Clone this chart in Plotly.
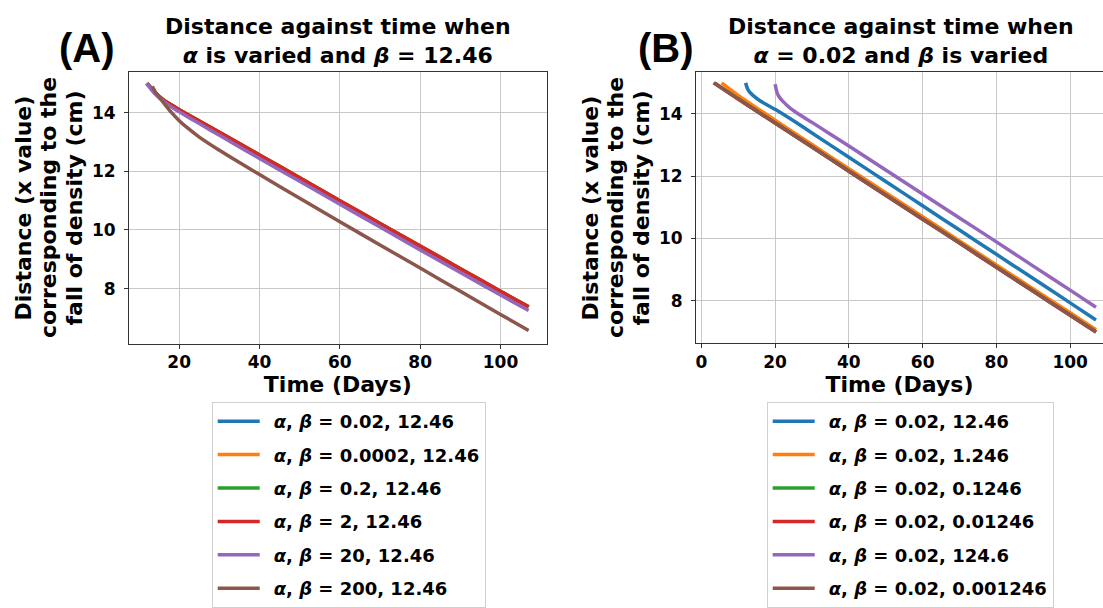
import plotly.graph_objects as go

FONT = "DejaVu Sans"
COLORS = ["#1f77b4", "#ff7f0e", "#2ca02c", "#d62728", "#9467bd", "#8c564b"]

# ---------------- Panel A : alpha varied, beta = 12.46 ----------------
A_labels = [
    "<i>α</i>, <i>β</i> = 0.02, 12.46",
    "<i>α</i>, <i>β</i> = 0.0002, 12.46",
    "<i>α</i>, <i>β</i> = 0.2, 12.46",
    "<i>α</i>, <i>β</i> = 2, 12.46",
    "<i>α</i>, <i>β</i> = 20, 12.46",
    "<i>α</i>, <i>β</i> = 200, 12.46",
]
A_x_main = [12, 13, 14, 16, 18, 20, 25, 30, 40, 50, 60, 70, 80, 90, 100, 107]
A_blue = [15.0, 14.84, 14.67, 14.44, 14.26, 14.09, 13.71, 13.32, 12.55, 11.77, 10.99, 10.21, 9.44, 8.67, 7.90, 7.37]
A_orange = [15.0, 14.84, 14.68, 14.45, 14.27, 14.10, 13.72, 13.33, 12.56, 11.78, 11.00, 10.22, 9.45, 8.68, 7.91, 7.38]
A_green = [15.0, 14.84, 14.68, 14.45, 14.27, 14.10, 13.72, 13.33, 12.56, 11.78, 11.00, 10.22, 9.45, 8.68, 7.91, 7.38]
A_red = [15.0, 14.84, 14.68, 14.45, 14.27, 14.10, 13.72, 13.33, 12.56, 11.78, 11.00, 10.22, 9.45, 8.68, 7.91, 7.38]
A_x_purple = [11.8, 13, 14, 16, 18, 20, 25, 30, 40, 50, 60, 70, 80, 90, 100, 107]
A_purple = [15.0, 14.80, 14.64, 14.40, 14.20, 14.03, 13.63, 13.23, 12.44, 11.66, 10.88, 10.10, 9.32, 8.55, 7.78, 7.25]
A_x_brown = [13.3, 14, 15, 16, 18, 20, 22, 25, 30, 35, 40, 50, 60, 70, 80, 90, 100, 107]
A_brown = [14.9, 14.72, 14.53, 14.36, 14.02, 13.73, 13.49, 13.17, 12.72, 12.30, 11.89, 11.08, 10.28, 9.49, 8.70, 7.91, 7.12, 6.57]

A_xs = [A_x_main, A_x_main, A_x_main, A_x_main, A_x_purple, A_x_brown]
A_ys = [A_blue, A_orange, A_green, A_red, A_purple, A_brown]

# ---------------- Panel B : alpha = 0.02, beta varied ----------------
B_labels = [
    "<i>α</i>, <i>β</i> = 0.02, 12.46",
    "<i>α</i>, <i>β</i> = 0.02, 1.246",
    "<i>α</i>, <i>β</i> = 0.02, 0.1246",
    "<i>α</i>, <i>β</i> = 0.02, 0.01246",
    "<i>α</i>, <i>β</i> = 0.02, 124.6",
    "<i>α</i>, <i>β</i> = 0.02, 0.001246",
]
B_x_blue = [12, 12.5, 13, 14, 16, 20, 25, 30, 40, 50, 60, 70, 80, 90, 100, 107]
B_blue = [15.0, 14.82, 14.72, 14.60, 14.42, 14.15, 13.78, 13.39, 12.61, 11.83, 11.05, 10.27, 9.49, 8.71, 7.93, 7.38]
B_x_orange = [5.5, 10, 20, 30, 40, 50, 60, 70, 80, 90, 100, 107]
B_orange = [15.0, 14.60, 13.80, 13.02, 12.24, 11.47, 10.70, 9.92, 9.15, 8.38, 7.61, 7.07]
B_x_green = [3.6, 10, 20, 30, 40, 50, 60, 70, 80, 90, 100, 107]
B_green = [15.0, 14.49, 13.72, 12.95, 12.17, 11.40, 10.63, 9.86, 9.08, 8.31, 7.54, 7.00]
B_x_red = [3.5, 10, 20, 30, 40, 50, 60, 70, 80, 90, 100, 107]
B_red = [15.0, 14.48, 13.71, 12.94, 12.16, 11.39, 10.62, 9.85, 9.07, 8.30, 7.53, 6.99]
B_x_purple = [20, 20.5, 21, 22, 24, 27, 30, 35, 40, 50, 60, 70, 80, 90, 100, 107]
B_purple = [14.96, 14.70, 14.57, 14.42, 14.20, 13.95, 13.73, 13.35, 12.97, 12.20, 11.43, 10.66, 9.89, 9.11, 8.34, 7.79]
B_x_brown = [3.3, 10, 20, 30, 40, 50, 60, 70, 80, 90, 100, 107]
B_brown = [15.0, 14.48, 13.71, 12.94, 12.16, 11.39, 10.62, 9.85, 9.07, 8.30, 7.53, 6.99]

B_xs = [B_x_blue, B_x_orange, B_x_green, B_x_red, B_x_purple, B_x_brown]
B_ys = [B_blue, B_orange, B_green, B_red, B_purple, B_brown]

W, H = 1103, 608

fig = go.Figure()
for i in range(6):
    fig.add_trace(go.Scatter(
        x=A_xs[i], y=A_ys[i], mode="lines", name="\u2002" + A_labels[i],
        line=dict(color=COLORS[i], width=3.5, shape="spline", smoothing=0.6),
        xaxis="x", yaxis="y", legend="legend", legendgroup=f"a{i}",
    ))
for i in range(6):
    fig.add_trace(go.Scatter(
        x=B_xs[i], y=B_ys[i], mode="lines", name="\u2002" + B_labels[i],
        line=dict(color=COLORS[i], width=3.5, shape="spline", smoothing=0.6),
        xaxis="x2", yaxis="y2", legend="legend2", legendgroup=f"b{i}",
    ))

tickfont = dict(family=FONT, size=17, color="black", weight="bold")
axis_common = dict(
    showgrid=True, gridcolor="#c8c8c8", gridwidth=1, zeroline=False,
    showline=True, linecolor="#333333", linewidth=1,
    ticks="outside", ticklen=4, tickcolor="#333333", tickwidth=1,
    tickfont=tickfont, automargin=False,
)
xtitle = dict(text="Time (Days)", font=dict(family=FONT, size=22, color="black", weight="bold"), standoff=5)


def px_x(p):
    return p / W


def px_y(p):
    return 1 - p / H


legend_common = dict(
    xanchor="left", yanchor="bottom", y=0, bgcolor="white", bordercolor="#d0d0d0", borderwidth=1,
    font=dict(family=FONT, size=18, color="black", weight="bold"),
    itemwidth=42, traceorder="grouped", tracegroupgap=7,
)

fig.update_layout(
    width=W, height=H, margin=dict(l=0, r=0, t=0, b=0),
    paper_bgcolor="white", plot_bgcolor="white",
    font=dict(family=FONT, color="black"),
    xaxis=dict(domain=[px_x(129), px_x(546.7)], range=[7.5, 111.5], dtick=20, tick0=0,
               anchor="y", mirror=True, title=xtitle, ticklabelstandoff=-1, **axis_common),
    yaxis=dict(domain=[px_y(344), px_y(72.3)], range=[6.11, 15.38], dtick=2, tick0=0,
               anchor="x", mirror=True, ticklabelstandoff=5, **axis_common),
    xaxis2=dict(domain=[px_x(696), 1.0], range=[-1.44, 108.9], dtick=20, tick0=0,
                anchor="y2", mirror=True, title=xtitle, ticklabelstandoff=-1, **axis_common),
    yaxis2=dict(domain=[px_y(343.3), px_y(72.3)], range=[6.63, 15.34], dtick=2, tick0=0,
                anchor="x2", mirror=False, ticklabelstandoff=5, **axis_common),
    legend=dict(x=px_x(211.7), **legend_common),
    legend2=dict(x=px_x(766.7), **legend_common),
    showlegend=True,
)

title_font = dict(family=FONT, size=22, color="black", weight="bold")
ylab_font = dict(family=FONT, size=22, color="black", weight="bold")
panel_font = dict(family="Liberation Sans", size=40, color="black", weight="bold")
ylab_lines = ["Distance (x value)", "corresponding to the", "fall of density (cm)"]
ylab_cols_A = [23.5, 49.0, 74.5]
ylab_cols_B = [590.5, 616.0, 641.5]

annotations = [
    dict(text="Distance against time when<br><i>α</i> is varied and <i>β</i> = 12.46",
         x=px_x(337.8), y=px_y(41), xref="paper", yref="paper", showarrow=False,
         xanchor="center", yanchor="middle", font=title_font),
    dict(text="Distance against time when<br><i>α</i> = 0.02 and <i>β</i> is varied",
         x=px_x(901), y=px_y(41), xref="paper", yref="paper", showarrow=False,
         xanchor="center", yanchor="middle", font=title_font),
    dict(text="(A)", x=px_x(87), y=px_y(48), xref="paper", yref="paper", showarrow=False,
         xanchor="center", yanchor="middle", font=panel_font),
    dict(text="(B)", x=px_x(666), y=px_y(48), xref="paper", yref="paper", showarrow=False,
         xanchor="center", yanchor="middle", font=panel_font),
]
for line, xa, xb in zip(ylab_lines, ylab_cols_A, ylab_cols_B):
    for xc in (xa, xb):
        annotations.append(dict(text=line, x=px_x(xc), y=px_y(208), xref="paper", yref="paper",
                                showarrow=False, textangle=-90, xanchor="center", yanchor="middle",
                                font=ylab_font))
fig.update_layout(annotations=annotations)

fig.write_html("out.html")
